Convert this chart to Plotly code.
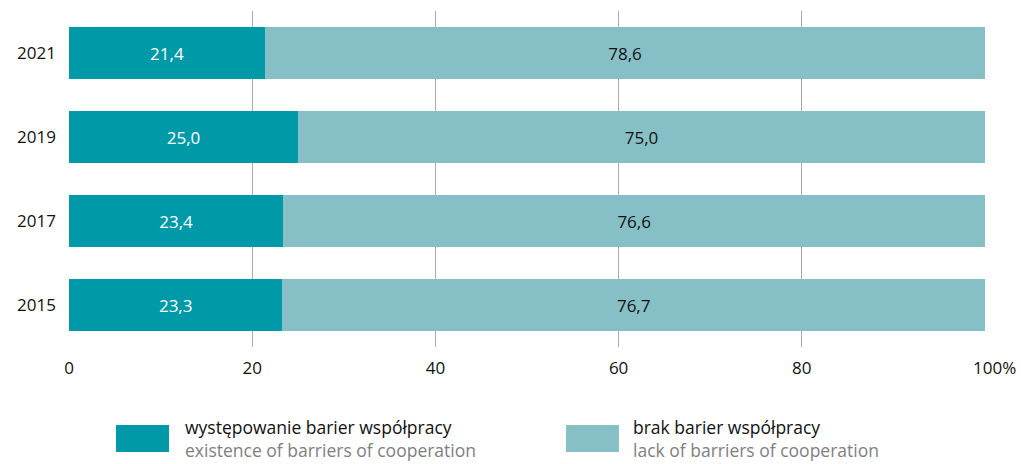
import plotly.graph_objects as go

# Survey years (bottom to top) and shares in %
years = ["2015", "2017", "2019", "2021"]
barriers = [23.3, 23.4, 25.0, 21.4]
no_barriers = [76.7, 76.6, 75.0, 78.6]

x_ticks = [0, 20, 40, 60, 80, 100]
x_tick_labels = ["0", "20", "40", "60", "80", "\u2007\u2007100%"]

series_pl = ["występowanie barier współpracy", "brak barier współpracy"]
series_en = ["existence of barriers of cooperation", "lack of barriers of cooperation"]

dark = "#0099a7"
light = "#86c0c6"
font_family = "Open Sans, Noto Sans, sans-serif"

fig = go.Figure()
fig.add_trace(go.Bar(
    y=years, x=barriers, orientation="h", name=series_pl[0],
    marker=dict(color=dark, line=dict(width=0)),
    texttemplate="%{x:.1f}", textposition="inside", insidetextanchor="middle",
    textfont=dict(color="white", size=17, family=font_family),
))
fig.add_trace(go.Bar(
    y=years, x=no_barriers, orientation="h", name=series_pl[1],
    marker=dict(color=light, line=dict(width=0)),
    texttemplate="%{x:.1f}", textposition="inside", insidetextanchor="middle",
    textfont=dict(color="#111111", size=17, family=font_family),
))

# Custom legend below the plot: swatch + two-line label (Polish / English)
legend_items = [
    dict(x0=0.0513, x1=0.1092, tx=0.1255),
    dict(x0=0.5426, x1=0.6004, tx=0.6146),
]
colors = [dark, light]
for item, col, pl, en in zip(legend_items, colors, series_pl, series_en):
    fig.add_shape(type="rect", xref="paper", yref="paper",
                  x0=item["x0"], x1=item["x1"], y0=-0.3125, y1=-0.232,
                  fillcolor=col, line=dict(width=0))
    fig.add_annotation(xref="paper", yref="paper", x=item["tx"], y=-0.344,
                       text=f"{pl}<br><span style='color:#808080'>{en}</span>",
                       showarrow=False, xanchor="left", yanchor="bottom", align="left",
                       borderpad=0,
                       font=dict(size=17.5, color="#111111", family=font_family))

fig.update_layout(
    barmode="stack",
    bargap=0.37,
    separators=", ",
    showlegend=False,
    width=1021, height=464,
    margin=dict(l=69, r=36, t=11, b=117),
    plot_bgcolor="white", paper_bgcolor="white",
    font=dict(family=font_family, size=17, color="#111111"),
    xaxis=dict(
        range=[0, 100], tickvals=x_ticks, ticktext=x_tick_labels,
        showgrid=True, gridcolor="#ababab", gridwidth=1.3,
        zeroline=False, showline=False, ticks="",
        ticklabelstandoff=9, automargin=False,
        tickfont=dict(size=17, color="#111111"),
    ),
    yaxis=dict(
        categoryorder="array", categoryarray=years,
        range=[-0.5, 3.5],
        showgrid=False, zeroline=False, showline=False, ticks="",
        ticklabelstandoff=12, automargin=False,
        tickfont=dict(size=17, color="#111111"),
    ),
)

fig.write_html("out.html")
